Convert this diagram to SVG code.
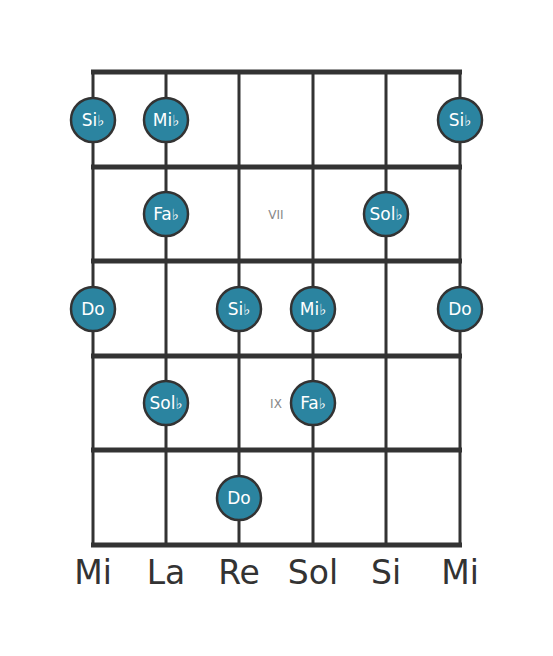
<svg xmlns="http://www.w3.org/2000/svg" width="553" height="656" viewBox="0 0 553 656">
<style>
.fret{stroke:#333;stroke-width:5;}
.str{stroke:#333;stroke-width:3;}
.note circle{fill:#2b84a0;stroke:#333;stroke-width:2.5;}
.note text{fill:#fff;font-family:"DejaVu Sans",sans-serif;font-size:17px;text-anchor:middle;}
.fl{font-size:15px;}
.pos{fill:#888;font-family:"DejaVu Sans",sans-serif;font-size:12px;text-anchor:middle;}
.lbl{fill:#333;font-family:"DejaVu Sans",sans-serif;font-size:33px;text-anchor:middle;}
</style>
<rect width="553" height="656" fill="#fff"/>
<g id="connectors">
<line class="str" x1="93" y1="72" x2="93" y2="545"/>
<line class="str" x1="166" y1="72" x2="166" y2="545"/>
<line class="str" x1="239" y1="72" x2="239" y2="545"/>
<line class="str" x1="313" y1="72" x2="313" y2="545"/>
<line class="str" x1="386" y1="72" x2="386" y2="545"/>
<line class="str" x1="460" y1="72" x2="460" y2="545"/>
<line class="fret" x1="91" y1="72" x2="462" y2="72"/>
<line class="fret" x1="91" y1="167" x2="462" y2="167"/>
<line class="fret" x1="91" y1="261" x2="462" y2="261"/>
<line class="fret" x1="91" y1="356" x2="462" y2="356"/>
<line class="fret" x1="91" y1="450" x2="462" y2="450"/>
<line class="fret" x1="91" y1="545" x2="462" y2="545"/>
</g>
<text class="pos" x="276" y="219">VII</text>
<text class="pos" x="276" y="408">IX</text>
<g id="n1" class="note"><circle cx="93" cy="120" r="22"/><text x="93" y="126">Si<tspan class="fl">♭</tspan></text></g>
<g id="n2" class="note"><circle cx="166" cy="120" r="22"/><text x="166" y="126">Mi<tspan class="fl">♭</tspan></text></g>
<g id="n3" class="note"><circle cx="460" cy="120" r="22"/><text x="460" y="126">Si<tspan class="fl">♭</tspan></text></g>
<g id="n4" class="note"><circle cx="166" cy="214" r="22"/><text x="166" y="220">Fa<tspan class="fl">♭</tspan></text></g>
<g id="n5" class="note"><circle cx="386" cy="214" r="22"/><text x="386" y="220">Sol<tspan class="fl">♭</tspan></text></g>
<g id="n6" class="note"><circle cx="93" cy="309" r="22"/><text x="93" y="315">Do</text></g>
<g id="n7" class="note"><circle cx="239" cy="309" r="22"/><text x="239" y="315">Si<tspan class="fl">♭</tspan></text></g>
<g id="n8" class="note"><circle cx="313" cy="309" r="22"/><text x="313" y="315">Mi<tspan class="fl">♭</tspan></text></g>
<g id="n9" class="note"><circle cx="460" cy="309" r="22"/><text x="460" y="315">Do</text></g>
<g id="n10" class="note"><circle cx="166" cy="403" r="22"/><text x="166" y="409">Sol<tspan class="fl">♭</tspan></text></g>
<g id="n11" class="note"><circle cx="313" cy="403" r="22"/><text x="313" y="409">Fa<tspan class="fl">♭</tspan></text></g>
<g id="n12" class="note"><circle cx="239" cy="498" r="22"/><text x="239" y="504">Do</text></g>
<text class="lbl" x="93" y="584">Mi</text>
<text class="lbl" x="166" y="584">La</text>
<text class="lbl" x="239" y="584">Re</text>
<text class="lbl" x="313" y="584">Sol</text>
<text class="lbl" x="386" y="584">Si</text>
<text class="lbl" x="460" y="584">Mi</text>
</svg>
